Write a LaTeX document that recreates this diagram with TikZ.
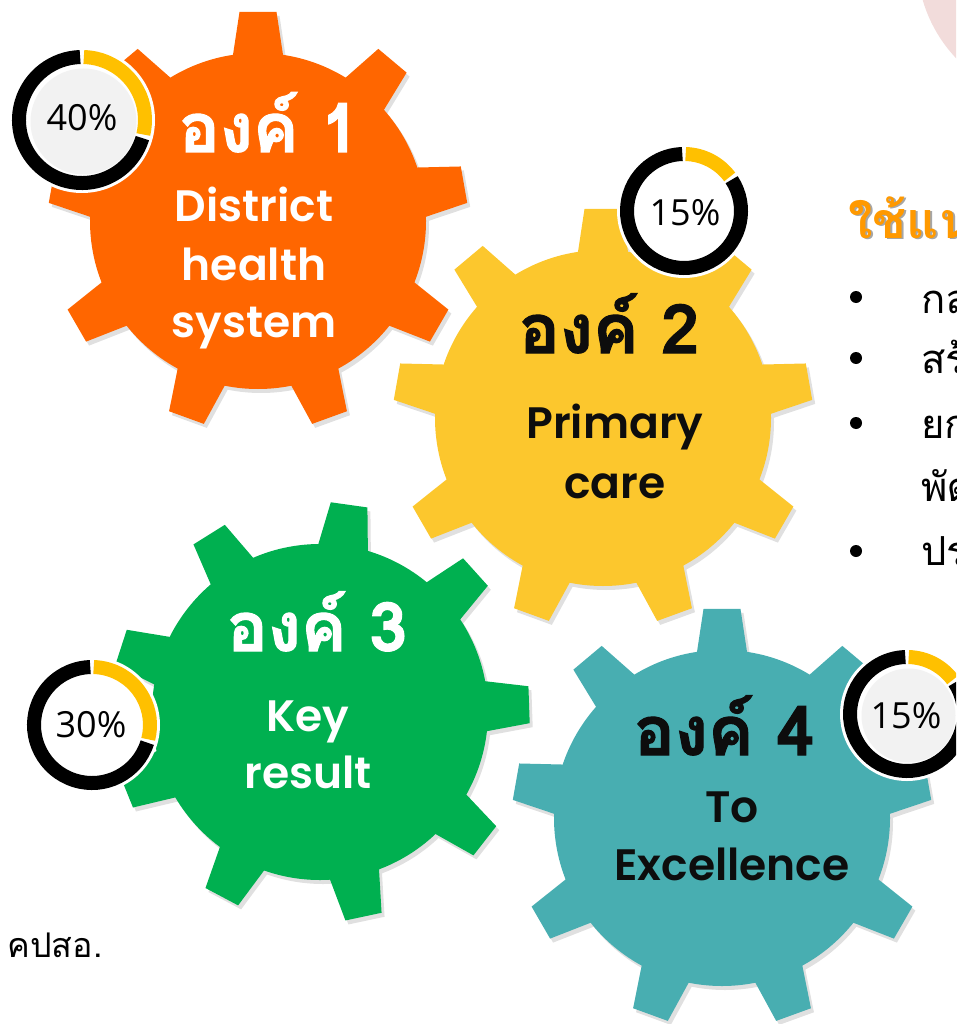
\documentclass[tikz,border=0pt]{standalone}
\usepackage{fontspec}
\setmainfont{Open Sans}
\newfontfamily\thaifont[Script=Thai]{Loma}
\newfontfamily\organfont[Script=Thai,BoldFeatures={FakeBold=1.6}]{Loma}
\newfontfamily\gearfont{Poppins SemiBold}
\usetikzlibrary{positioning}

\definecolor{gearorange}{HTML}{FF6600}
\definecolor{gearyellow}{HTML}{FCC72D}
\definecolor{geargreen}{HTML}{00B050}
\definecolor{gearteal}{HTML}{48AEB1}
\definecolor{ringyellow}{HTML}{FFC000}
\definecolor{titleorange}{HTML}{FF9900}
\definecolor{rosepink}{HTML}{F2DCDB}
\definecolor{innergray}{HTML}{F2F2F2}
\definecolor{darktext}{HTML}{0D0D0D}

\tikzset{
  organlabel/.style={anchor=base, font=\organfont\bfseries\fontsize{68}{68}\selectfont},
  gearlabel/.style={anchor=base, font=\gearfont\fontsize{44}{44}\selectfont},
  pctlabel/.style={font=\fontsize{36}{36}\selectfont, text=black},
  bulletline/.style={anchor=base west, font=\thaifont\fontsize{40}{40}\selectfont},
  bulletdot/.style={circle, fill=black, inner sep=0pt, minimum size=12pt},
}

% gear: centre, first tooth angle, colour, name
\newcommand{\gear}[4]{%
  \begin{scope}[shift={(#1)}]
    \fill[black!12] (3,4) circle (168);
    \foreach \a in {0,40,...,320}
      \fill[black!12,shift={(3,4)}] (#2+\a-10.7:150) -- (#2+\a-5.05:210) -- (#2+\a+5.05:210) -- (#2+\a+10.7:150) -- cycle;
    \fill[#3] (0,0) circle (168);
    \foreach \a in {0,40,...,320}
      \fill[#3] (#2+\a-10.7:150) -- (#2+\a-5.05:210) -- (#2+\a+5.05:210) -- (#2+\a+10.7:150) -- cycle;
    \coordinate (#4) at (0,0);
  \end{scope}}

% donut: centre, radius, end of yellow part, inner fill
\newcommand{\donut}[4]{%
  \begin{scope}[shift={(#1)}]
    \fill[white] (0,0) circle (#2+3);
    \draw[line width=14pt,black] (-#3+1.7:#2-7) arc[start angle=-#3+1.7, end angle=268.3, radius=#2-7];
    \draw[line width=14pt,ringyellow] (-88.3:#2-7) arc[start angle=-88.3, end angle=-#3-1.7, radius=#2-7];
    \fill[#4] (1.5,1.5) circle (#2-17);
  \end{scope}}

\begin{document}
\begin{tikzpicture}[x=1pt,y=-1pt]
	\useasboundingbox (0,0) rectangle (956,1024);
	\clip (0,0) rectangle (956,1024);
	\fill[rosepink] (1060,-40) circle (143);
	% the four gears
	\gear{258,221}{-90}{gearorange}{g1}
	\gear{603,418}{-90}{gearyellow}{g2}
	\gear{320,712}{-82}{geargreen}{g3}
	\gear{722,818}{-90}{gearteal}{g4}
	% texts on the gears
	\node[organlabel,text=white] (o1) at (269,152) {องค์ 1};
	\node[gearlabel,text=white] (o1a) at (254,222) {District};
	\node[gearlabel,text=white] (o1b) at (254,280) {health};
	\node[gearlabel,text=white] (o1c) at (254,337) {system};
	\node[organlabel,text=darktext] (o2) at (609,353) {องค์ 2};
	\node[gearlabel,text=darktext] (o2a) at (615,438) {Primary};
	\node[gearlabel,text=darktext] (o2b) at (615,498) {care};
	\node[organlabel,text=white] (o3) at (317,651) {องค์ 3};
	\node[gearlabel,text=white] (o3a) at (308,731) {Key};
	\node[gearlabel,text=white] (o3b) at (308,788) {result};
	\node[organlabel,text=darktext] (o4) at (724,755) {องค์ 4};
	\node[gearlabel,text=darktext] (o4a) at (732,822) {To};
	\node[gearlabel,text=darktext] (o4b) at (732,880) {Excellence};
	% percentage rings
	\donut{82,120}{70}{-15}{innergray}
	\node[pctlabel] (p1) at (82,118) {40\%};
	\donut{684,211}{64}{35}{white}
	\node[pctlabel] (p2) at (685,213) {15\%};
	\donut{92,725}{65}{-16}{white}
	\node[pctlabel] (p3) at (91,725) {30\%};
	\donut{907,714}{64}{35}{innergray}
	\node[pctlabel] (p4) at (906,716) {15\%};
	% text at the right
	\node[anchor=base west,text=black!35,font=\thaifont\bfseries\fontsize{50}{50}\selectfont] (titleshadow) at (847,240) {ใช้แน};
	\node[anchor=base west,text=titleorange,font=\thaifont\bfseries\fontsize{50}{50}\selectfont] (title) at (845,238) {ใช้แน};
	\node[bulletdot] (b1) at (856,297) {};
	\node[bulletdot] (b2) at (856,358) {};
	\node[bulletdot] (b3) at (856,423) {};
	\node[bulletdot] (b4) at (856,551) {};
	\node[bulletline] (l1) at (918,313) {กลุ่ม};
	\node[bulletline] (l2) at (918,373) {สร้า};
	\node[bulletline] (l3) at (918,438) {ยกร};
	\node[bulletline] (l4) at (918,501) {พัฒน};
	\node[bulletline] (l5) at (918,565) {ประ};
	\node[anchor=base west,font=\thaifont\fontsize{34}{34}\selectfont] (foot) at (4,957) {คปสอ.};
\end{tikzpicture}
\end{document}
